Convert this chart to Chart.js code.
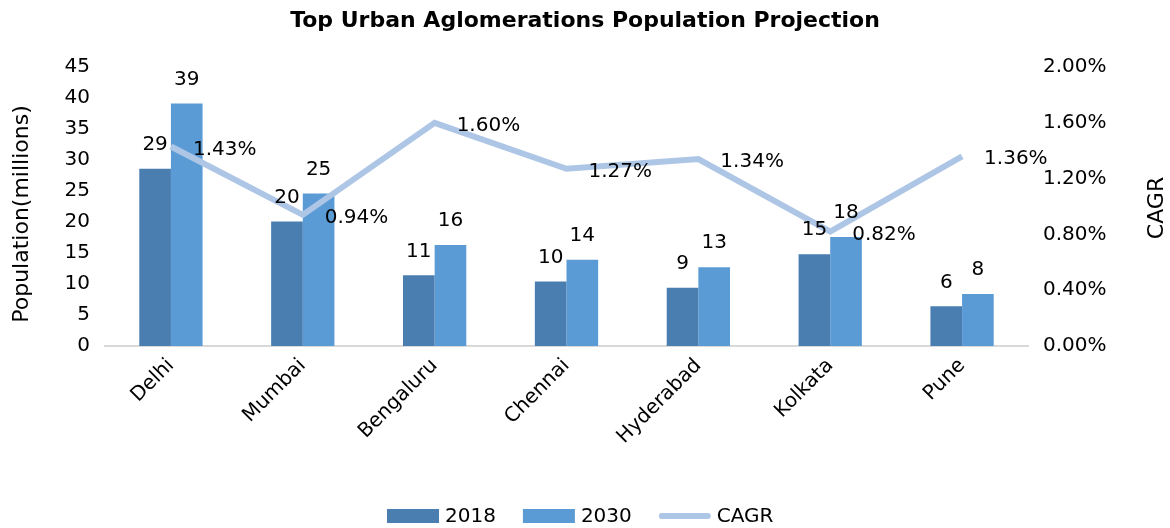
<!DOCTYPE html>
<html>
<head>
<meta charset="utf-8">
<script src="https://cdn.jsdelivr.net/npm/chart.js@4"></script>
<style>
html,body{margin:0;padding:0;background:#fff;}
#wrap{width:1170px;height:528px;}
</style>
</head>
<body>
<div id="wrap"><canvas id="c" width="1170" height="528"></canvas></div>
<script>
const chartTitle = 'Top Urban Aglomerations Population Projection';
const categories = ['Delhi', 'Mumbai', 'Bengaluru', 'Chennai', 'Hyderabad', 'Kolkata', 'Pune'];
const pop2018 = [28.6, 20.1, 11.4, 10.4, 9.4, 14.8, 6.4];
const pop2030 = [39.1, 24.6, 16.3, 13.9, 12.7, 17.6, 8.4];
const cagr = [1.43, 0.94, 1.60, 1.27, 1.34, 0.82, 1.36];
const seriesNames = ['2018', '2030', 'CAGR'];
const leftTitle = 'Population(millions)';
const rightTitle = 'CAGR';

const FONT = '"DejaVu Sans", sans-serif';
const C2018 = '#4a7eb0';
const C2030 = '#5b9bd5';
const CLINE = '#aec6e6';

const labelPlugin = {
  id: 'labels',
  afterDraw(chart) {
    const ctx = chart.ctx;
    ctx.save();
    ctx.fillStyle = '#000';
    ctx.font = '20px ' + FONT;
    ctx.textBaseline = 'middle';
    // bar labels
    [0, 1].forEach(di => {
      const meta = chart.getDatasetMeta(di);
      const data = chart.data.datasets[di].data;
      ctx.textAlign = 'center';
      meta.data.forEach((el, i) => {
        ctx.fillText(String(Math.round(data[i])), el.x, el.y - 24);
      });
    });
    // line labels
    const lm = chart.getDatasetMeta(2);
    const ld = chart.data.datasets[2].data;
    ctx.textAlign = 'left';
    lm.data.forEach((el, i) => {
      ctx.fillText(ld[i].toFixed(2) + '%', el.x + 22, el.y + 3);
    });
    // left axis title
    ctx.save();
    ctx.font = '22px ' + FONT;
    ctx.translate(22, 214);
    ctx.rotate(-Math.PI / 2);
    ctx.textAlign = 'center';
    ctx.fillText(leftTitle, 0, 0);
    ctx.restore();
    // right axis title (reads bottom to top)
    ctx.save();
    ctx.font = '22px ' + FONT;
    ctx.translate(1157, 208);
    ctx.rotate(-Math.PI / 2);
    ctx.textAlign = 'center';
    ctx.fillText(rightTitle, 0, 0);
    ctx.restore();
    // title
    ctx.font = 'bold 22px ' + FONT;
    ctx.textAlign = 'center';
    ctx.fillText(chartTitle, 585, 21);
    // legend
    ctx.font = '20px ' + FONT;
    const boxW = 52, gapT = 6, gapI = 27;
    const colors = [C2018, C2030, CLINE];
    let x = 387;
    const ly = 516;
    seriesNames.forEach((n, i) => {
      if (i < 2) {
        ctx.fillStyle = colors[i];
        ctx.fillRect(x, ly - 7, boxW, 14);
      } else {
        ctx.strokeStyle = colors[i];
        ctx.lineWidth = 6;
        ctx.lineCap = 'round';
        ctx.beginPath();
        ctx.moveTo(x + 3, ly);
        ctx.lineTo(x + boxW - 3, ly);
        ctx.stroke();
      }
      ctx.fillStyle = '#000';
      ctx.textAlign = 'left';
      ctx.fillText(n, x + boxW + gapT, ly + 1);
      x += boxW + gapT + ctx.measureText(n).width + gapI;
    });
    ctx.restore();
  }
};

new Chart(document.getElementById('c'), {
  type: 'bar',
  data: {
    labels: categories,
    datasets: [
      { label: seriesNames[0], data: pop2018, backgroundColor: C2018, yAxisID: 'y', order: 2,
        barPercentage: 1.0, categoryPercentage: 0.48 },
      { label: seriesNames[1], data: pop2030, backgroundColor: C2030, yAxisID: 'y', order: 2,
        barPercentage: 1.0, categoryPercentage: 0.48 },
      { label: seriesNames[2], data: cagr, type: 'line', yAxisID: 'y1', order: 0,
        borderColor: CLINE, borderWidth: 6, pointRadius: 0, tension: 0, fill: false }
    ]
  },
  options: {
    responsive: false,
    animation: false,
    layout: { padding: { top: 67, bottom: 0, left: 0, right: 0 } },
    plugins: { legend: { display: false }, title: { display: false }, tooltip: { enabled: false } },
    scales: {
      x: {
        grid: { display: false, drawTicks: false },
        border: { display: true, color: '#d9d9d9', width: 2 },
        ticks: { color: '#000', font: { size: 20, family: FONT }, maxRotation: 45, minRotation: 45, padding: 8 },
        afterFit: s => { s.height = 182; }
      },
      y: {
        position: 'left', min: 0, max: 45,
        grid: { display: false, drawTicks: false },
        border: { display: false },
        ticks: { stepSize: 5, color: '#000', font: { size: 20, family: FONT }, padding: 15 },
        title: { display: false },
        afterFit: s => { s.width = 105; }
      },
      y1: {
        position: 'right', min: 0, max: 2,
        grid: { display: false, drawTicks: false },
        border: { display: false },
        ticks: { stepSize: 0.4, color: '#000', font: { size: 20, family: FONT }, padding: 15,
          callback: v => v.toFixed(2) + '%' },
        title: { display: false },
        afterFit: s => { s.width = 142; }
      }
    }
  },
  plugins: [labelPlugin]
});
</script>
</body>
</html>
